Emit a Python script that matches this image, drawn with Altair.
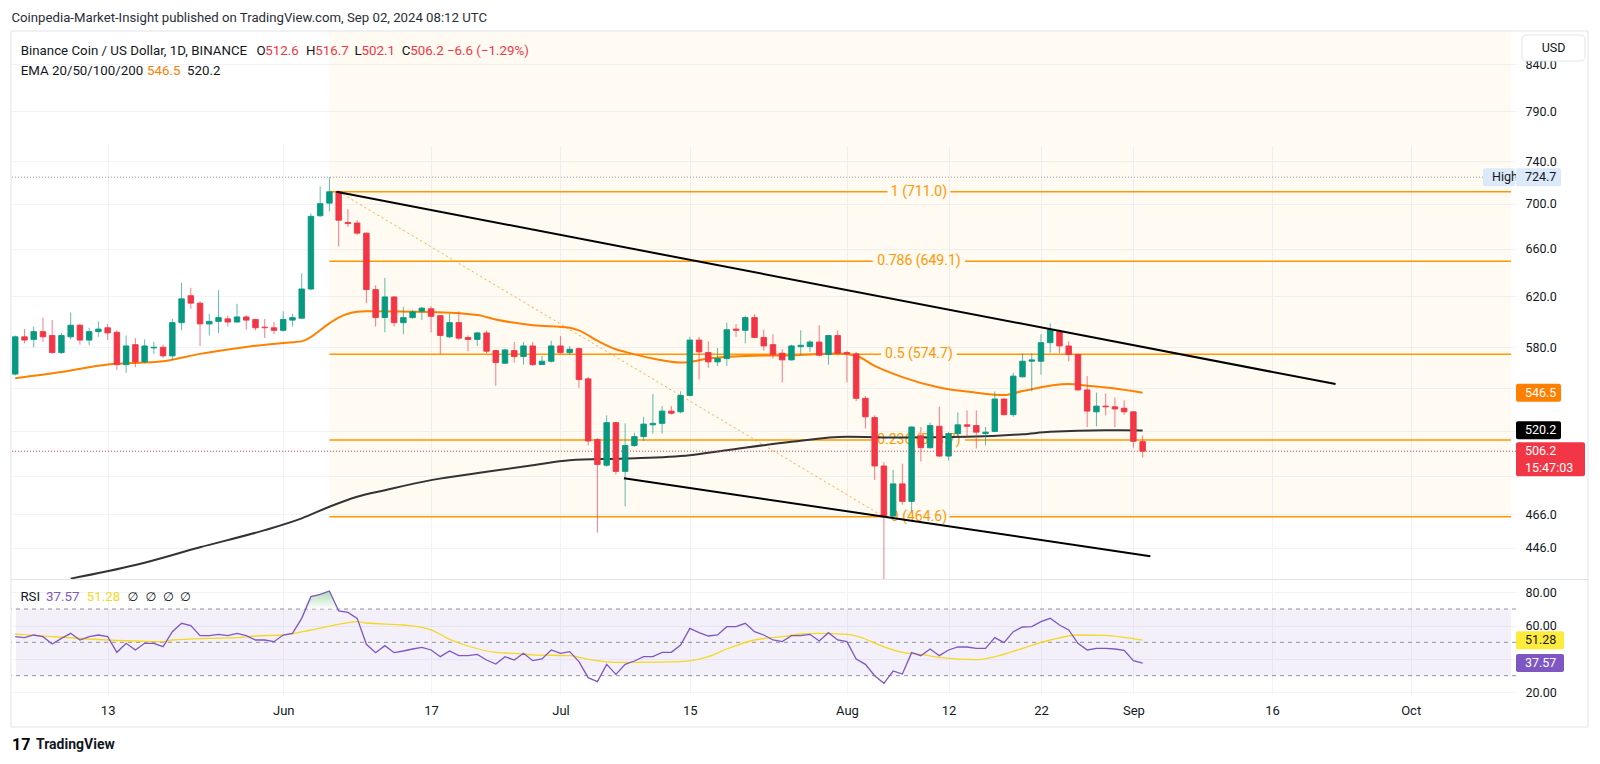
import altair as alt
import numpy as np
import pandas as pd

# ------------------------------------------------------------------ data
first_day = "2024-05-03"
opens = [560, 588, 586, 592, 589, 576, 588, 597, 585.5, 592, 595, 591.5, 567, 582, 569, 579.5, 580, 573.5, 599, 620.5,
         614.5, 598, 600, 602, 599.5, 603.5, 601.5, 595.5, 595,
         593, 601, 602.5, 626, 689, 700.5, 711, 683, 682.5, 673.5, 625.5, 603, 619.5, 599, 603, 608, 610, 604.5, 588, 599,
         587.5, 586, 591, 577.5, 568, 577.5, 573, 581, 567, 569.5,
         581, 576, 579, 556.5, 514, 497, 525.5, 493, 510, 516, 524, 525, 533.5, 533, 544.5, 585.5, 576, 569, 571.5, 594,
         593, 603, 587.5, 582, 575.5, 570.5, 580.5, 580.5, 584, 574.5, 589,
         576, 575, 542.5, 529, 496.5, 465, 485, 474, 516.5, 508.5, 523, 503, 518, 524, 523.5, 518, 519.5, 542, 531, 558,
         569.5, 569.5, 583.5, 592, 581, 574.5, 548.5, 533, 537, 536.5, 535.5,
         533, 512.6]
highs = [589, 594, 596, 603, 601, 591, 607, 598, 595, 600, 598, 593, 589, 587, 586, 584, 582, 602, 631, 627, 616, 606,
         625, 604.5, 614, 605, 602, 602, 599.5,
         608, 606, 639, 691, 716, 724.7, 712, 695, 685, 674, 629, 635, 620, 611.5, 609, 611.5, 612, 605, 606, 608, 589,
         592, 593, 578, 579, 584, 584, 584, 573.5, 585,
         588.5, 581, 580, 558, 515, 530.5, 526, 525, 518.5, 529.5, 545.5, 537, 537, 547.5, 588, 588, 584.5, 579.5, 599,
         598, 604.5, 605.5, 593.5, 590, 578.5, 582, 593, 585.5, 597, 589.5, 593,
         577.5, 576.5, 544, 530.5, 499, 494, 498, 523, 522.5, 525.5, 536.5, 519, 532.5, 534, 534, 522.5, 547.5, 542.5,
         561, 575.5, 575.5, 590, 598.5, 593.5, 584.5, 575.5, 558.5, 546.5, 546, 543, 541,
         533.5, 516.7]
lows = [559, 583, 580, 584, 575, 575, 586, 582, 581.5, 588, 585.5, 563, 561, 565, 568, 575, 572, 570, 593, 610, 581, 589,
        591, 596, 599, 593.5, 593, 587, 590,
        592, 596, 602, 625, 688, 693, 662, 679, 672, 614.5, 596, 591.5, 596, 590, 602, 601, 591.5, 575, 587, 585.5, 577,
        581, 575.5, 551.5, 567.5, 568.5, 567, 566, 567, 568.5,
        575, 574, 550, 510, 455, 496, 491, 471, 509, 513, 518, 518, 531, 532, 544, 556, 564.5, 566, 566, 588, 583, 587,
        577.5, 571.5, 554, 570, 574, 576.5, 573, 567, 574.5,
        554, 540.5, 521.5, 487.5, 408, 463, 472, 468, 499.5, 508, 502.5, 500, 516, 516, 508, 510, 519, 530.5, 529.5,
        557.5, 547.5, 559.5, 576, 575.5, 569.5, 547.5, 522.5, 523, 530.5, 522.5, 531,
        508.5, 502.1]
closes = [588, 585.5, 592, 588, 576, 589, 597, 585.5, 592, 594, 591, 567, 581, 569, 581, 580, 573.5, 599, 618, 614.5,
          598, 600, 603, 599.5, 603.5, 601, 595, 595, 593,
          601.5, 603, 626, 688.5, 700, 711, 685, 682, 673.5, 625.5, 603, 619.5, 599, 603, 607.5, 610.5, 604, 589, 599,
          587, 586, 591, 577, 568.5, 578, 573, 581, 567, 569.5, 581,
          576, 578.5, 556, 513, 497.5, 525.5, 493, 510, 516, 524.5, 525, 533.5, 532, 544.5, 585.5, 576.5, 569, 571.5,
          593.5, 593, 603, 587.5, 581, 574.5, 570.5, 581, 581.5, 584, 574, 589, 575.5,
          575, 542.5, 529.5, 496.5, 465, 485, 474, 522.5, 508.5, 523.5, 503, 518, 524, 523, 519, 519, 542, 531, 558.5,
          569.5, 570.5, 583.5, 593.5, 581, 574.5, 548.5, 533.5, 537, 536.5, 535, 533,
          512.8, 506.2]
rsi_values = [53.4, 52.8, 54.4, 53.4, 49, 52.4, 55.4, 51.4, 53.4, 54.4, 53.4, 44, 49.4, 45.4, 49.4, 49.4, 47.4, 56.4,
              61.4, 60, 54, 54, 54.8, 54, 55.4, 54, 51.4, 51.4, 50.4,
              54.4, 55.4, 64.4, 77.4, 78.8, 80.8, 68.8, 68, 64.4, 48.8, 43.8, 48, 43.8, 44.8, 46, 47, 45.4, 41.4, 44.8,
              42, 42, 42.8, 39.4, 37, 41.4, 39.4, 43.4, 39, 40, 45.4, 43.4,
              44.4, 38.4, 28.8, 26.4, 36.8, 30.8, 36.8, 38.8, 41.4, 41.4, 44, 44, 48.4, 58.4, 55.8, 53.8, 54.4, 59.4,
              59.4, 61.4, 56.4, 54.4, 51.4, 50.4, 54, 54, 54.8, 50.8, 55.8, 51.4, 50.4,
              40, 36.8, 30, 25.4, 32.8, 31, 43.8, 42, 46, 42, 45.4, 47.2, 47.2, 46.4, 46.4, 52.8, 49.8, 56.4, 59.2, 59.4,
              62.4, 64.4, 60.4, 57.4, 49.4, 45.4, 46.4, 46.4, 46, 45.2, 39,
              37.57]

ema50_dates = ["2024-05-03", "2024-05-08", "2024-05-13", "2024-05-19", "2024-05-20", "2024-05-23", "2024-05-28",
               "2024-06-01", "2024-06-03", "2024-06-06", "2024-06-07", "2024-06-09", "2024-06-10", "2024-06-17",
               "2024-06-22", "2024-06-24", "2024-06-28", "2024-07-02", "2024-07-03", "2024-07-05", "2024-07-07",
               "2024-07-08", "2024-07-11", "2024-07-14", "2024-07-15", "2024-07-17", "2024-07-21", "2024-07-26",
               "2024-07-31", "2024-08-02", "2024-08-04", "2024-08-07", "2024-08-11", "2024-08-15", "2024-08-18",
               "2024-08-20", "2024-08-25", "2024-08-27", "2024-08-30", "2024-09-02"]
ema50_values = [557, 561.5, 567, 569.4, 570.7, 575, 580.3, 583.3, 584.5, 598.5, 603, 607.6, 608, 607.5, 605, 601.5,
                597, 595, 593, 585, 578.5, 576.5, 571.5, 568.5, 569, 571.5, 573.5, 574, 575.3, 573.6, 566, 557.8,
                550.2, 546.5, 544.8, 547.7, 552.7, 551.5, 549.5, 546.5]
ema200_dates = ["2024-05-09", "2024-05-16", "2024-05-23", "2024-05-30", "2024-06-03", "2024-06-06", "2024-06-09",
                "2024-06-12", "2024-06-17", "2024-06-23", "2024-06-28", "2024-07-02", "2024-07-08", "2024-07-15",
                "2024-07-19", "2024-07-26", "2024-08-01", "2024-08-07", "2024-08-14", "2024-08-20", "2024-08-23",
                "2024-08-29", "2024-09-02"]
ema200_values = [428.4, 436.1, 446.4, 456.5, 463.6, 470.7, 476.9, 481.0, 487.4, 492.7, 497.0, 500.3, 501.4, 503.6,
                 506.9, 512.5, 515.8, 515.3, 515.8, 517.6, 519.2, 520.3, 520.2]
rsi_ma_dates = ["2024-05-03", "2024-05-07", "2024-05-13", "2024-05-19", "2024-05-20", "2024-05-24", "2024-05-27",
                "2024-05-29", "2024-06-01", "2024-06-04", "2024-06-07", "2024-06-09", "2024-06-10", "2024-06-14",
                "2024-06-16", "2024-06-17", "2024-06-19", "2024-06-21", "2024-06-24", "2024-06-26", "2024-06-28",
                "2024-07-02", "2024-07-04", "2024-07-07", "2024-07-09", "2024-07-14", "2024-07-17", "2024-07-19",
                "2024-07-22", "2024-07-25", "2024-07-27", "2024-07-29", "2024-08-01", "2024-08-03", "2024-08-04",
                "2024-08-07", "2024-08-09", "2024-08-11", "2024-08-15", "2024-08-17", "2024-08-20", "2024-08-23",
                "2024-08-26", "2024-08-29", "2024-08-31", "2024-09-02"]
rsi_ma_values = [55, 53.4, 51.4, 50.4, 51.4, 52.4, 52.8, 53.8, 54.4, 57.4, 60.8, 62.4, 61.6, 60.4, 59, 57.5, 51.8,
                 47.8, 44, 43.4, 42.5, 42, 39.8, 38, 38, 38.4, 41.4, 46, 51.4, 53.4, 55, 55.4, 54.8, 52, 49.5, 44,
                 42.8, 41, 39.6, 41.4, 46.4, 51.4, 54.4, 54.2, 53, 51.28]

fib_ratios = ["1", "0.786", "0.5", "0.236", "0"]
fib_prices = [711.0, 649.1, 574.7, 513.7, 464.6]
fib_start = "2024-06-06"
fib_label_date = "2024-08-08T19:00:00Z"
fib_diag_dates = ["2024-06-07", "2024-08-05"]
fib_diag_prices = [711.0, 464.6]
upper_trend_dates = ["2024-06-06T18:00:00Z", "2024-09-22T21:00:00Z"]
upper_trend_prices = [711.0, 552.7]
lower_trend_dates = ["2024-07-07T21:00:00Z", "2024-09-02T20:00:00Z"]
lower_trend_prices = [488.6, 441.2]

date_ticks = ["2024-05-13", "2024-06-01", "2024-06-17", "2024-07-01", "2024-07-15", "2024-08-01", "2024-08-12",
              "2024-08-22", "2024-09-01", "2024-09-16", "2024-10-01"]
price_ticks = [446, 466, 490, 520, 550, 580, 620, 660, 700, 740, 790, 840]
price_ticks_hidden = [490, 520, 550]
rsi_ticks = [20, 40, 60, 80]
rsi_ticks_hidden = [40]
rsi_levels = [70, 50, 30]
overbought = 70
high_price = 724.7
last_ohlc = [512.6, 516.7, 502.1, 506.2]
last_change = "\u22126.6 (\u22121.29%)"
ema_last = [546.5, 520.2]
rsi_last = [37.57, 51.28]
countdown = "15:47:03"
publish_text = "Coinpedia-Market-Insight published on TradingView.com, Sep 02, 2024 08:12 UTC"
symbol_text = "Binance Coin / US Dollar, 1D, BINANCE"
ema_text = "EMA 20/50/100/200"

# ------------------------------------------------------------------ style / layout
FONT = "Roboto"
TXT = "#131722"
GRID = "#F0F3FA"
FRAME = "#E0E3EB"
UP, DOWN = "#089981", "#F23645"
EMA_FAST, EMA_SLOW = "#FF8000", "#333333"
FIB = "#FF9800"
RSI_C, RSI_MA_C, RSI_TAG = "#7E57C2", "#F5D824", "#FFEB3B"
HIGH_BG = "#DCE9FB"

W, H = 1505, 663
P_DOM, P_PX = [428.2, 877.6], [548, 0]
R_DOM, R_PX = [19.0, 87.4], [663, 549]
X_START, X_END = "2024-05-03T02:00:00Z", "2024-10-11T20:40:00Z"
fib_gap_days = [3.4, 5.0, 4.1, 5.0, 3.3]


def to_dt(s):
    t = pd.Timestamp(s)
    return alt.DateTime(year=t.year, month=t.month, date=t.day, hours=t.hour, minutes=t.minute, utc=True)


def hide_expr(hidden, fmt):
    arr = "[" + ", ".join(str(v) for v in hidden) + "]"
    return f"indexof({arr}, datum.value) >= 0 ? '' : format(datum.value, '{fmt}')"


xs = alt.Scale(type="utc", domain=[to_dt(X_START), to_dt(X_END)], nice=False)
xaxis = alt.Axis(values=[to_dt(s) for s in date_ticks],
                 labelExpr="utcdate(datum.value) == 1 ? utcFormat(datum.value, '%b') : utcFormat(datum.value, '%-d')",
                 grid=True, gridColor=GRID, domain=False, ticks=False, labelPadding=10.5, labelFontSize=13,
                 labelColor=TXT, labelFont=FONT, title=None, labelOverlap=False, labelFlush=False)
price_axis = alt.Axis(orient="right", values=price_ticks, labelExpr=hide_expr(price_ticks_hidden, ".1f"), grid=True,
                      gridColor=GRID, domain=False, ticks=False, labelPadding=9, labelFontSize=12.5, labelColor=TXT,
                      labelFont=FONT, title=None, labelOverlap=False)
rsi_axis = alt.Axis(orient="right", values=rsi_ticks, labelExpr=hide_expr(rsi_ticks_hidden, ".2f"), grid=True,
                    gridColor=GRID, domain=False, ticks=False, labelPadding=9, labelFontSize=12.5, labelColor=TXT,
                    labelFont=FONT, title=None, labelOverlap=False)


def xe(field):
    return alt.X(f"{field}:T", scale=xs, axis=xaxis, title=None)


def yp(field, axis=None):
    return alt.Y(f"{field}:Q", scale=alt.Scale(type="log", domain=P_DOM, range=P_PX, clamp=True, nice=False),
                 axis=axis, title=None)


def yr(field, axis=None):
    return alt.Y(f"{field}:Q", scale=alt.Scale(domain=R_DOM, range=R_PX, nice=False, zero=False, clamp=True),
                 axis=axis, title=None)


one = pd.DataFrame({"a": [0]})


def ptext(txt, x, y, color=TXT, size=13.3, weight="normal", font=FONT, align="left"):
    return alt.Chart(one).mark_text(text=txt, align=align, baseline="middle", fontSize=size, fontWeight=weight,
                                    font=font, color=color).encode(x=alt.value(x), y=alt.value(y))


def tag(value, label, bg, fg, yfun, x0, x1, up=9, down=9):
    df = pd.DataFrame({"v": [value], "t": [label]})
    rect = alt.Chart(df).mark_rect(yOffset=-up, y2Offset=down, cornerRadius=2, color=bg).encode(
        x=alt.value(x0), x2=alt.value(x1), y=yfun("v"), y2="v:Q")
    txt = alt.Chart(df).mark_text(align="left", baseline="middle", fontSize=12.5, font=FONT, color=fg).encode(
        x=alt.value(x0 + 9), y=yfun("v"), text="t:N")
    return [rect, txt]


# ------------------------------------------------------------------ frames
candle_dates = pd.date_range(first_day, periods=len(opens), freq="D").strftime("%Y-%m-%d")
candles = pd.DataFrame({"date": candle_dates, "o": opens, "h": highs, "l": lows, "c": closes})
rsi_df = pd.DataFrame({"date": candle_dates, "rsi": rsi_values})
rsi_ma_df = pd.DataFrame({"date": rsi_ma_dates, "v": rsi_ma_values})
ema50_df = pd.DataFrame({"date": ema50_dates, "v": ema50_values})
ema200_df = pd.DataFrame({"date": ema200_dates, "v": ema200_values})

centre = pd.Timestamp(fib_label_date)
seg_rows = []
for p, half in zip(fib_prices, fib_gap_days):
    seg_rows.append({"x": fib_start, "x2": (centre - pd.Timedelta(days=half)).isoformat(), "p": p})
    seg_rows.append({"x": (centre + pd.Timedelta(days=half)).isoformat(), "x2": X_END, "p": p})
fib_seg = pd.DataFrame(seg_rows)
fib_lbl = pd.DataFrame({"x": [fib_label_date] * len(fib_prices), "p": fib_prices,
                        "t": [f"{r} ({p:.1f})" for r, p in zip(fib_ratios, fib_prices)]})
trend_df = pd.DataFrame({"x": upper_trend_dates + lower_trend_dates,
                         "p": upper_trend_prices + lower_trend_prices,
                         "id": ["upper"] * 2 + ["lower"] * 2})
diag_df = pd.DataFrame({"x": fib_diag_dates, "p": fib_diag_prices})

layers = []
# backgrounds
layers.append(alt.Chart(pd.DataFrame({"x": [fib_start], "x2": [X_END], "top": [P_DOM[1]], "bot": [fib_prices[-1]]}))
              .mark_rect(color=FIB, opacity=0.05).encode(x=xe("x"), x2="x2:T", y=yp("top", price_axis), y2="bot:Q"))
layers.append(alt.Chart(pd.DataFrame({"x": [X_START], "x2": [X_END], "hi": [rsi_levels[0]], "lo": [rsi_levels[-1]]}))
              .mark_rect(color=RSI_C, opacity=0.09).encode(x=xe("x"), x2="x2:T", y=yr("hi", rsi_axis), y2="lo:Q"))
layers.append(alt.Chart(pd.DataFrame({"lvl": rsi_levels})).mark_rule(color="#787B86", strokeDash=[4, 4], strokeWidth=1,
                                                                    opacity=0.8).encode(y=yr("lvl")))
# RSI overbought fill
ob = rsi_df[(rsi_df.date >= "2024-06-03") & (rsi_df.date <= "2024-06-07")]
green_fill = alt.Gradient(gradient="linear", stops=[alt.GradientStop(color="#4CAF50", offset=0),
                                                    alt.GradientStop(color="#FFFFFF", offset=1)],
                          x1=1, x2=1, y1=0, y2=1)
layers.append(alt.Chart(ob).transform_calculate(top=f"max(datum.rsi, {overbought})")
              .mark_area(color=green_fill, opacity=0.45).encode(x=xe("date"), y=yr("top"), y2=alt.datum(overbought)))
layers.append(alt.Chart(rsi_ma_df).mark_line(color=RSI_MA_C, strokeWidth=1.3, interpolate="monotone")
              .encode(x=xe("date"), y=yr("v")))
layers.append(alt.Chart(rsi_df).mark_line(color=RSI_C, strokeWidth=1.3).encode(x=xe("date"), y=yr("rsi")))

# fib
layers.append(alt.Chart(fib_seg).mark_rule(color=FIB, strokeWidth=1.5).encode(x=xe("x"), x2="x2:T", y=yp("p")))
layers.append(alt.Chart(fib_lbl).mark_text(color=FIB, fontSize=14, font=FONT, align="center", baseline="middle")
              .encode(x=xe("x"), y=yp("p"), text="t:N"))
layers.append(alt.Chart(diag_df).mark_line(color=FIB, strokeDash=[2, 3], strokeWidth=1, opacity=0.8)
              .encode(x=xe("x"), y=yp("p")))
# high line
layers.append(alt.Chart(pd.DataFrame({"p": [high_price]})).mark_rule(color="#9598A1", strokeDash=[1, 2], strokeWidth=1)
              .encode(y=yp("p")))
# EMAs
layers.append(alt.Chart(ema200_df).mark_line(color=EMA_SLOW, strokeWidth=2, interpolate="monotone", clip=True)
              .encode(x=xe("date"), y=yp("v")))
layers.append(alt.Chart(ema50_df).mark_line(color=EMA_FAST, strokeWidth=2, interpolate="monotone", clip=True)
              .encode(x=xe("date"), y=yp("v")))
# candles
col = alt.condition("datum.c >= datum.o", alt.value(UP), alt.value(DOWN))
layers.append(alt.Chart(candles).mark_rule(strokeWidth=1, opacity=0.65, clip=True)
              .encode(x=xe("date"), y=yp("l"), y2="h:Q", color=col))
layers.append(alt.Chart(candles).mark_bar(size=5.5, strokeWidth=0.9, clip=True)
              .encode(x=xe("date"), y=yp("o"), y2="c:Q", color=col, stroke=col))
# trend lines
layers.append(alt.Chart(trend_df).mark_line(color="#000000", strokeWidth=2, clip=True)
              .encode(x=xe("x"), y=yp("p"), detail="id:N"))
# last price line
layers.append(alt.Chart(pd.DataFrame({"p": [last_ohlc[3]]})).mark_rule(color=DOWN, strokeDash=[1, 2], strokeWidth=1)
              .encode(y=yp("p")))

# pane separator, frame
layers.append(alt.Chart(one).mark_rule(color=FRAME, strokeWidth=1)
              .encode(x=alt.value(0), x2=alt.value(1577), y=alt.value(548.5)))
layers.append(alt.Chart(one).mark_rect(fill="transparent", stroke=FRAME, strokeWidth=1)
              .encode(x=alt.value(0), x2=alt.value(1577), y=alt.value(0), y2=alt.value(696)))

# price-scale tags
layers += tag(high_price, "High", HIGH_BG, TXT, yp, 1472, 1504)
layers += tag(high_price, f"{high_price:.1f}", HIGH_BG, TXT, yp, W, W + 45)
layers += tag(ema_last[0], f"{ema_last[0]:.1f}", EMA_FAST, "#FFFFFF", yp, W, W + 45)
layers += tag(ema_last[1], f"{ema_last[1]:.1f}", "#000000", "#FFFFFF", yp, W, W + 45)
layers += tag(last_ohlc[3], f"{last_ohlc[3]:.1f}", DOWN, "#FFFFFF", yp, W, W + 69, 9, 25)
layers.append(alt.Chart(pd.DataFrame({"v": [last_ohlc[3]]}))
              .mark_text(text=countdown, align="left", baseline="middle", fontSize=12.5, font=FONT, color="#FFFFFF",
                         dy=17).encode(x=alt.value(W + 9), y=yp("v")))
layers += tag(rsi_last[1], f"{rsi_last[1]:.2f}", RSI_TAG, TXT, yr, W, W + 48)
layers += tag(rsi_last[0], f"{rsi_last[0]:.2f}", RSI_C, "#FFFFFF", yr, W, W + 48)

# USD button
layers.append(alt.Chart(one).mark_rect(fill="#FFFFFF", stroke=FRAME, strokeWidth=1, cornerRadius=4)
              .encode(x=alt.value(1511), x2=alt.value(1574), y=alt.value(4), y2=alt.value(30)))
layers.append(ptext("USD", 1542.5, 17, size=12.5, align="center"))

# header texts
layers.append(ptext(publish_text, 0.5, -13, color="#2A2E39", size=13.2))
layers.append(ptext(symbol_text, 9.7, 20))
for letter, lx, vx, val in zip(["O", "H", "L", "C"], [245.4, 295, 343.6, 390.8], [254.3, 304.3, 350.6, 399.2],
                               last_ohlc):
    layers.append(ptext(letter, lx, 20))
    layers.append(ptext(f"{val:.1f}", vx, 20, color=DOWN))
layers.append(ptext(last_change, 436, 20, color=DOWN))
layers.append(ptext(ema_text, 9.7, 40))
layers.append(ptext(f"{ema_last[0]:.1f}", 136, 40, color=EMA_FAST))
layers.append(ptext(f"{ema_last[1]:.1f}", 176, 40))
layers.append(ptext("RSI", 9.4, 566))
layers.append(ptext(f"{rsi_last[0]:.2f}", 35, 566, color=RSI_C))
layers.append(ptext(f"{rsi_last[1]:.2f}", 75.7, 566, color=RSI_MA_C))
for ex in [116.6, 134.4, 152, 169]:
    layers.append(ptext("\u2205", ex, 566, font="DejaVu Sans", size=12.5))

# footer logo
layers.append(ptext("17", 1, 714, size=16, weight="bold", color="#000000"))
layers.append(ptext("TradingView", 25, 714, size=14, weight="bold", color="#131722"))

chart = (alt.layer(*layers)
         .resolve_scale(y="independent")
         .properties(width=W, height=H, background="white",
                     autosize=alt.AutoSizeParams(type="none"),
                     padding={"left": 3, "top": 23, "right": 76, "bottom": 62})
         .configure_view(stroke="transparent"))

chart.save("out.html", embed_options={"renderer": "svg", "actions": False})
